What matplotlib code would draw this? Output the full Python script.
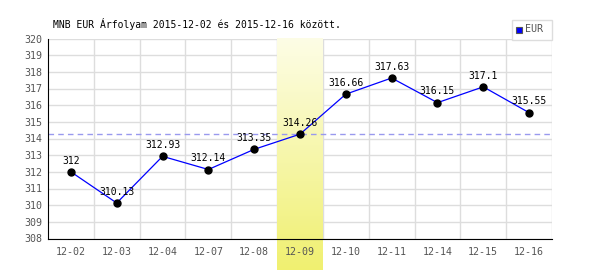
import numpy as np
import matplotlib
matplotlib.use("Agg")
import matplotlib.pyplot as plt
from matplotlib.colors import LinearSegmentedColormap
from matplotlib.transforms import blended_transform_factory
from matplotlib.patches import Rectangle

dates = ["12-02", "12-03", "12-04", "12-07", "12-08", "12-09",
         "12-10", "12-11", "12-14", "12-15", "12-16"]
rates = [312.0, 310.13, 312.93, 312.14, 313.35, 314.26,
         316.66, 317.63, 316.15, 317.1, 315.55]
labels = ["312", "310.13", "312.93", "312.14", "313.35", "314.26",
          "316.66", "317.63", "316.15", "317.1", "315.55"]
ref_level = 314.26
highlight_idx = 5
yticks = list(range(308, 321))
title = "MNB EUR Árfolyam 2015-12-02 és 2015-12-16 között."
series_name = "EUR"

plt.rcParams['font.family'] = ['DejaVu Sans Mono']

fig = plt.figure(figsize=(6, 2.7), dpi=100)
ax = fig.add_axes([48/600, 1-238.5/270, 504/600, 200/270])

x = np.arange(len(dates))

# manual grid (below highlight)
for yt in yticks:
    ax.axhline(yt, color='#dddddd', lw=1, zorder=0.5)
for xv in x + 0.5:
    ax.axvline(xv, color='#dddddd', lw=1, zorder=0.5)

# highlight gradient
fb = ax.transAxes.inverted().transform(fig.transFigure.transform((0, 0)))[1]
cmap = LinearSegmentedColormap.from_list("hl", ["#f0f070", "#fdfde6"])
grad = np.linspace(0, 1, 256).reshape(-1, 1)
trans = blended_transform_factory(ax.transData, ax.transAxes)
ax.imshow(grad, cmap=cmap, aspect='auto', origin='lower',
          extent=(highlight_idx - 0.5, highlight_idx + 0.5, fb, 1.0),
          transform=trans, zorder=1, clip_on=False)

ax.axhline(ref_level, color='#9999ee', lw=1, ls=(0, (4, 3)), zorder=2)

ax.plot(x, rates, color='#0000ff', lw=0.9, zorder=3)
ax.plot(x, rates, 'o', color='black', ms=5, zorder=4)

for xi, yi, lab in zip(x, rates, labels):
    ax.annotate(lab, (xi, yi), xytext=(0, 4.5), textcoords='offset points',
                ha='center', va='bottom', fontsize=7, color='black', zorder=5)

ax.set_xlim(-0.5, len(dates) - 0.5)
ax.set_ylim(308, 320)
ax.set_yticks(yticks)
ax.set_xticks(x)
ax.set_xticklabels(dates)
ax.set_axisbelow(False)

for s in ['top', 'right']:
    ax.spines[s].set_visible(False)
for s in ['left', 'bottom']:
    ax.spines[s].set_color('black')
    ax.spines[s].set_zorder(6)

ax.tick_params(axis='both', which='both', length=0, labelsize=7.2, colors='#555555')
ax.tick_params(axis='x', pad=6)
ax.tick_params(axis='y', pad=4)

fig.text(53/600, 1-24/270, title, fontsize=7, color='black', va='center', ha='left')

# legend box
lx0, ly0, lx1, ly1 = 512/600, 1-39.5/270, 552/600, 1-19.5/270
fig.patches.append(Rectangle((lx0, ly0), lx1-lx0, ly1-ly0, transform=fig.transFigure,
                             facecolor='white', edgecolor='#dddddd', lw=1))
fig.patches.append(Rectangle((516/600, 1-33/270), 6/600, 6/270, transform=fig.transFigure,
                             facecolor='#0000ff', edgecolor='#555555', lw=0.8))
fig.text(525/600, 1-29.5/270, series_name, fontsize=7.2, color='#555555', va='center', ha='left')

fig.savefig("out.png", dpi=100)
